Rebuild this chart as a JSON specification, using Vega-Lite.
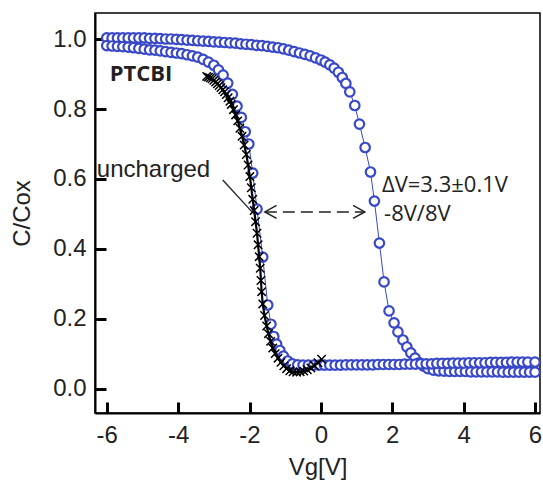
{
  "$schema": "https://vega.github.io/schema/vega-lite/v6.json",
  "width": 445,
  "height": 400,
  "autosize": {"type": "none"},
  "padding": {"left": 95, "top": 13, "right": 3, "bottom": 72},
  "background": "white",
  "config": {
    "view": {"stroke": "black", "strokeWidth": 1.5},
    "axis": {
      "grid": false,
      "domainColor": "black",
      "domainWidth": 2,
      "tickColor": "black",
      "tickWidth": 3,
      "labelFont": "Liberation Sans",
      "labelFontSize": 24,
      "labelColor": "#222222",
      "titleFont": "Liberation Sans",
      "titleFontSize": 24,
      "titleFontWeight": "normal",
      "titleColor": "#222222"
    }
  },
  "datasets": {
    "curves": [
      {"s":"R","x":-6.00,"y":1.003},{"s":"R","x":-5.85,"y":1.003},{"s":"R","x":-5.70,"y":1.003},{"s":"R","x":-5.55,"y":1.003},
      {"s":"R","x":-5.40,"y":1.003},{"s":"R","x":-5.25,"y":1.003},{"s":"R","x":-5.10,"y":1.003},{"s":"R","x":-4.95,"y":1.003},
      {"s":"R","x":-4.80,"y":1.002},{"s":"R","x":-4.65,"y":1.002},{"s":"R","x":-4.50,"y":1.001},{"s":"R","x":-4.35,"y":1.000},
      {"s":"R","x":-4.20,"y":1.000},{"s":"R","x":-4.05,"y":0.999},{"s":"R","x":-3.90,"y":0.998},{"s":"R","x":-3.75,"y":0.997},
      {"s":"R","x":-3.60,"y":0.996},{"s":"R","x":-3.45,"y":0.995},{"s":"R","x":-3.30,"y":0.994},{"s":"R","x":-3.15,"y":0.993},
      {"s":"R","x":-3.00,"y":0.992},{"s":"R","x":-2.85,"y":0.991},{"s":"R","x":-2.70,"y":0.990},{"s":"R","x":-2.55,"y":0.989},
      {"s":"R","x":-2.40,"y":0.988},{"s":"R","x":-2.25,"y":0.986},{"s":"R","x":-2.10,"y":0.985},{"s":"R","x":-1.95,"y":0.984},
      {"s":"R","x":-1.80,"y":0.982},{"s":"R","x":-1.65,"y":0.981},{"s":"R","x":-1.50,"y":0.979},{"s":"R","x":-1.35,"y":0.977},
      {"s":"R","x":-1.20,"y":0.975},{"s":"R","x":-1.05,"y":0.972},{"s":"R","x":-0.90,"y":0.968},{"s":"R","x":-0.75,"y":0.964},
      {"s":"R","x":-0.60,"y":0.960},{"s":"R","x":-0.45,"y":0.956},{"s":"R","x":-0.30,"y":0.952},{"s":"R","x":-0.15,"y":0.946},
      {"s":"R","x":0.00,"y":0.940},{"s":"R","x":0.12,"y":0.934},{"s":"R","x":0.25,"y":0.926},{"s":"R","x":0.37,"y":0.917},
      {"s":"R","x":0.49,"y":0.905},{"s":"R","x":0.60,"y":0.890},{"s":"R","x":0.70,"y":0.873},{"s":"R","x":0.81,"y":0.849},
      {"s":"R","x":0.95,"y":0.810},{"s":"R","x":1.08,"y":0.757},{"s":"R","x":1.24,"y":0.690},{"s":"R","x":1.39,"y":0.620},
      {"s":"R","x":1.50,"y":0.537},{"s":"R","x":1.64,"y":0.417},{"s":"R","x":1.77,"y":0.306},{"s":"R","x":1.91,"y":0.223},
      {"s":"R","x":2.05,"y":0.189},{"s":"R","x":2.16,"y":0.163},{"s":"R","x":2.30,"y":0.140},{"s":"R","x":2.41,"y":0.120},
      {"s":"R","x":2.52,"y":0.103},{"s":"R","x":2.64,"y":0.088},{"s":"R","x":2.76,"y":0.075},{"s":"R","x":2.88,"y":0.065},
      {"s":"R","x":3.00,"y":0.058},{"s":"R","x":3.15,"y":0.054},{"s":"R","x":3.30,"y":0.052},{"s":"R","x":3.45,"y":0.051},
      {"s":"R","x":3.60,"y":0.050},{"s":"R","x":3.75,"y":0.050},{"s":"R","x":3.90,"y":0.050},{"s":"R","x":4.05,"y":0.050},
      {"s":"R","x":4.20,"y":0.049},{"s":"R","x":4.35,"y":0.049},{"s":"R","x":4.50,"y":0.049},{"s":"R","x":4.65,"y":0.049},
      {"s":"R","x":4.80,"y":0.049},{"s":"R","x":4.95,"y":0.049},{"s":"R","x":5.10,"y":0.048},{"s":"R","x":5.25,"y":0.048},
      {"s":"R","x":5.40,"y":0.048},{"s":"R","x":5.55,"y":0.048},{"s":"R","x":5.70,"y":0.048},{"s":"R","x":5.85,"y":0.048},
      {"s":"R","x":6.00,"y":0.048},
      {"s":"L","x":-6.00,"y":0.981},{"s":"L","x":-5.85,"y":0.980},{"s":"L","x":-5.70,"y":0.979},{"s":"L","x":-5.55,"y":0.978},
      {"s":"L","x":-5.40,"y":0.977},{"s":"L","x":-5.25,"y":0.975},{"s":"L","x":-5.10,"y":0.973},{"s":"L","x":-4.95,"y":0.971},
      {"s":"L","x":-4.80,"y":0.969},{"s":"L","x":-4.65,"y":0.968},{"s":"L","x":-4.50,"y":0.966},{"s":"L","x":-4.35,"y":0.964},
      {"s":"L","x":-4.20,"y":0.962},{"s":"L","x":-4.05,"y":0.960},{"s":"L","x":-3.90,"y":0.958},{"s":"L","x":-3.75,"y":0.955},
      {"s":"L","x":-3.60,"y":0.952},{"s":"L","x":-3.45,"y":0.948},{"s":"L","x":-3.30,"y":0.942},{"s":"L","x":-3.15,"y":0.934},
      {"s":"L","x":-3.00,"y":0.925},{"s":"L","x":-2.87,"y":0.912},{"s":"L","x":-2.74,"y":0.897},{"s":"L","x":-2.61,"y":0.874},
      {"s":"L","x":-2.48,"y":0.842},{"s":"L","x":-2.35,"y":0.808},{"s":"L","x":-2.23,"y":0.776},{"s":"L","x":-2.12,"y":0.735},
      {"s":"L","x":-2.02,"y":0.700},{"s":"L","x":-1.91,"y":0.617},{"s":"L","x":-1.79,"y":0.514},{"s":"L","x":-1.63,"y":0.377},
      {"s":"L","x":-1.49,"y":0.240},{"s":"L","x":-1.40,"y":0.185},{"s":"L","x":-1.32,"y":0.150},{"s":"L","x":-1.24,"y":0.128},
      {"s":"L","x":-1.15,"y":0.110},{"s":"L","x":-1.05,"y":0.094},{"s":"L","x":-0.93,"y":0.080},{"s":"L","x":-0.80,"y":0.072},
      {"s":"L","x":-0.65,"y":0.069},{"s":"L","x":-0.50,"y":0.068},{"s":"L","x":-0.35,"y":0.068},{"s":"L","x":-0.20,"y":0.068},
      {"s":"L","x":-0.05,"y":0.068},{"s":"L","x":0.10,"y":0.068},{"s":"L","x":0.25,"y":0.068},{"s":"L","x":0.40,"y":0.068},
      {"s":"L","x":0.55,"y":0.068},{"s":"L","x":0.70,"y":0.069},{"s":"L","x":0.85,"y":0.069},{"s":"L","x":1.00,"y":0.069},
      {"s":"L","x":1.15,"y":0.069},{"s":"L","x":1.30,"y":0.069},{"s":"L","x":1.45,"y":0.069},{"s":"L","x":1.60,"y":0.070},
      {"s":"L","x":1.75,"y":0.070},{"s":"L","x":1.90,"y":0.070},{"s":"L","x":2.05,"y":0.070},{"s":"L","x":2.20,"y":0.070},
      {"s":"L","x":2.35,"y":0.071},{"s":"L","x":2.50,"y":0.071},{"s":"L","x":2.65,"y":0.071},{"s":"L","x":2.80,"y":0.072},
      {"s":"L","x":2.95,"y":0.072},{"s":"L","x":3.10,"y":0.072},{"s":"L","x":3.25,"y":0.073},{"s":"L","x":3.40,"y":0.073},
      {"s":"L","x":3.55,"y":0.073},{"s":"L","x":3.70,"y":0.074},{"s":"L","x":3.85,"y":0.074},{"s":"L","x":4.00,"y":0.074},
      {"s":"L","x":4.15,"y":0.075},{"s":"L","x":4.30,"y":0.075},{"s":"L","x":4.45,"y":0.075},{"s":"L","x":4.60,"y":0.075},
      {"s":"L","x":4.75,"y":0.076},{"s":"L","x":4.90,"y":0.076},{"s":"L","x":5.05,"y":0.076},{"s":"L","x":5.20,"y":0.076},
      {"s":"L","x":5.35,"y":0.077},{"s":"L","x":5.50,"y":0.077},{"s":"L","x":5.65,"y":0.077},{"s":"L","x":5.80,"y":0.077},
      {"s":"L","x":6.00,"y":0.077},
      {"s":"U","x":-3.20,"y":0.893},{"s":"U","x":-3.15,"y":0.891},{"s":"U","x":-3.10,"y":0.889},{"s":"U","x":-3.05,"y":0.886},
      {"s":"U","x":-3.00,"y":0.882},{"s":"U","x":-2.95,"y":0.877},{"s":"U","x":-2.90,"y":0.872},{"s":"U","x":-2.85,"y":0.867},
      {"s":"U","x":-2.80,"y":0.861},{"s":"U","x":-2.75,"y":0.855},{"s":"U","x":-2.70,"y":0.849},{"s":"U","x":-2.65,"y":0.841},
      {"s":"U","x":-2.60,"y":0.832},{"s":"U","x":-2.55,"y":0.822},{"s":"U","x":-2.51,"y":0.813},{"s":"U","x":-2.45,"y":0.798},
      {"s":"U","x":-2.39,"y":0.783},{"s":"U","x":-2.33,"y":0.766},{"s":"U","x":-2.27,"y":0.745},{"s":"U","x":-2.21,"y":0.722},
      {"s":"U","x":-2.15,"y":0.697},{"s":"U","x":-2.09,"y":0.670},{"s":"U","x":-2.04,"y":0.640},{"s":"U","x":-1.99,"y":0.607},
      {"s":"U","x":-1.95,"y":0.575},{"s":"U","x":-1.91,"y":0.542},{"s":"U","x":-1.87,"y":0.510},{"s":"U","x":-1.83,"y":0.478},
      {"s":"U","x":-1.79,"y":0.445},{"s":"U","x":-1.76,"y":0.412},{"s":"U","x":-1.73,"y":0.378},{"s":"U","x":-1.70,"y":0.345},
      {"s":"U","x":-1.68,"y":0.310},{"s":"U","x":-1.66,"y":0.278},{"s":"U","x":-1.63,"y":0.243},{"s":"U","x":-1.58,"y":0.210},
      {"s":"U","x":-1.52,"y":0.180},{"s":"U","x":-1.47,"y":0.158},{"s":"U","x":-1.41,"y":0.136},{"s":"U","x":-1.35,"y":0.117},
      {"s":"U","x":-1.28,"y":0.101},{"s":"U","x":-1.20,"y":0.088},{"s":"U","x":-1.12,"y":0.076},{"s":"U","x":-1.04,"y":0.066},
      {"s":"U","x":-0.96,"y":0.058},{"s":"U","x":-0.87,"y":0.052},{"s":"U","x":-0.78,"y":0.049},{"s":"U","x":-0.68,"y":0.048},
      {"s":"U","x":-0.58,"y":0.049},{"s":"U","x":-0.48,"y":0.051},{"s":"U","x":-0.38,"y":0.055},{"s":"U","x":-0.28,"y":0.060},
      {"s":"U","x":-0.18,"y":0.067},{"s":"U","x":-0.08,"y":0.075},{"s":"U","x":0.02,"y":0.085}
    ],
    "rules": [
      {"kind":"pointer","x":-2.75,"y":0.597,"x2":-1.93,"y2":0.506},
      {"kind":"dashed","x":-1.57,"y":0.506,"x2":1.23,"y2":0.506}
    ],
    "heads": [
      {"dir":"left","x":-1.57,"y":0.506},
      {"dir":"right","x":1.23,"y":0.506}
    ],
    "notes": [
      {"k":"ptcbi","x":-5.92,"y":0.88,"text":"PTCBI"},
      {"k":"unch","x":-6.28,"y":0.606,"text":"uncharged"},
      {"k":"dv","x":1.71,"y":0.563,"text":"ΔV=3.3±0.1V"},
      {"k":"dv","x":1.77,"y":0.48,"text":"-8V/8V"}
    ]
  },
  "encoding": {
    "x": {"field": "x", "type": "quantitative", "scale": {"domain": [-6.33, 6.14], "nice": false, "zero": false},
          "axis": {"values": [-6, -4, -2, 0, 2, 4, 6], "ticks": true, "tickSize": -11, "labelPadding": 21,
                   "labelExpr": "replace(datum.label, '\u2212', '-')", "title": "Vg[V]", "titlePadding": 8}},
    "y": {"field": "y", "type": "quantitative", "scale": {"domain": [-0.0686, 1.0743], "nice": false, "zero": false},
          "axis": {"values": [0, 0.2, 0.4, 0.6, 0.8, 1.0], "format": ".1f", "ticks": true, "tickSize": -11, "labelPadding": 20,
                   "title": "C/Cox", "titlePadding": 18}}
  },
  "layer": [
    {
      "data": {"name": "curves"},
      "transform": [{"filter": "datum.s !== 'U'"}],
      "mark": {"type": "line", "color": "#3848c8", "strokeWidth": 1},
      "encoding": {"detail": {"field": "s"}}
    },
    {
      "data": {"name": "curves"},
      "transform": [{"filter": "datum.s !== 'U'"}],
      "mark": {"type": "point", "shape": "circle", "size": 90, "fill": "white", "stroke": "#3848c8", "strokeWidth": 2.2, "opacity": 1}
    },
    {
      "data": {"name": "curves"},
      "transform": [{"filter": "datum.s === 'U'"}],
      "mark": {"type": "line", "color": "black", "strokeWidth": 2.2},
      "encoding": {}
    },
    {
      "data": {"name": "curves"},
      "transform": [{"filter": "datum.s === 'U'"}],
      "mark": {"type": "point", "shape": "M-1,-1L1,1M-1,1L1,-1", "size": 70, "filled": false, "stroke": "black", "strokeWidth": 1.5, "opacity": 1}
    },
    {
      "data": {"name": "rules"},
      "transform": [{"filter": "datum.kind === 'pointer'"}],
      "mark": {"type": "rule", "color": "#222222", "strokeWidth": 1.3},
      "encoding": {"x2": {"field": "x2"}, "y2": {"field": "y2"}}
    },
    {
      "data": {"name": "rules"},
      "transform": [{"filter": "datum.kind === 'dashed'"}],
      "mark": {"type": "rule", "color": "#222222", "strokeWidth": 1.5, "strokeDash": [12, 6]},
      "encoding": {"x2": {"field": "x2"}, "y2": {"field": "y2"}}
    },
    {
      "data": {"name": "heads"},
      "mark": {"type": "point", "size": 169, "filled": false, "stroke": "#222222", "strokeWidth": 1.5, "opacity": 1},
      "encoding": {
        "shape": {"field": "dir", "type": "nominal", "legend": null,
                  "scale": {"domain": ["left", "right"], "range": ["M1.8,-1L0,0L1.8,1", "M-1.8,-1L0,0L-1.8,1"]}}
      }
    },
    {
      "data": {"name": "notes"},
      "transform": [{"filter": "datum.k === 'ptcbi'"}],
      "mark": {"type": "text", "align": "left", "baseline": "alphabetic", "font": "Open Sans", "fontWeight": "bold", "fontSize": 22, "color": "#222222"},
      "encoding": {"text": {"field": "text"}}
    },
    {
      "data": {"name": "notes"},
      "transform": [{"filter": "datum.k === 'unch'"}],
      "mark": {"type": "text", "align": "left", "baseline": "alphabetic", "font": "Liberation Sans", "fontSize": 24, "color": "#222222"},
      "encoding": {"text": {"field": "text"}}
    },
    {
      "data": {"name": "notes"},
      "transform": [{"filter": "datum.k === 'dv'"}],
      "mark": {"type": "text", "align": "left", "baseline": "alphabetic", "font": "Open Sans", "fontSize": 22, "color": "#222222"},
      "encoding": {"text": {"field": "text"}}
    }
  ]
}
